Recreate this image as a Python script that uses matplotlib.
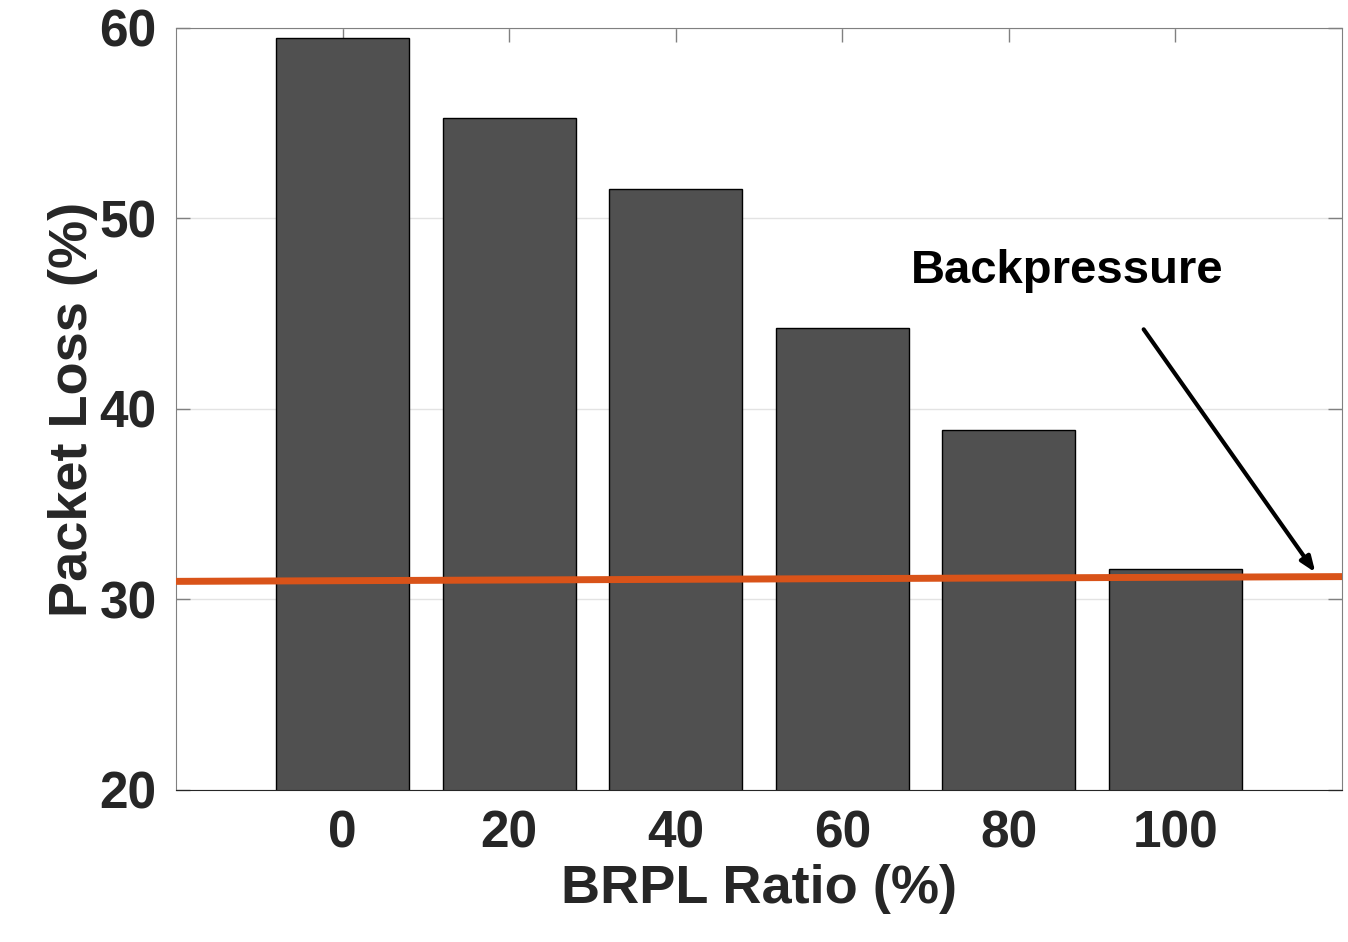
import matplotlib.pyplot as plt
import numpy as np

plt.rcParams['font.family'] = ['Liberation Sans', 'DejaVu Sans']
plt.rcParams['font.weight'] = 'bold'

ratios = ['0', '20', '40', '60', '80', '100']
packet_loss = [59.5, 55.3, 51.55, 44.25, 38.9, 31.6]
backpressure_x = [0, 7]
backpressure_y = [30.95, 31.2]

fig = plt.figure(figsize=(13.48, 9.42), dpi=100)
ax = fig.add_axes([0.1306, 0.1614, 0.8649, 0.8089])

pos = np.arange(1, len(ratios) + 1)
ax.bar(pos, packet_loss, width=0.8, color='#505050', edgecolor='black', linewidth=1, zorder=2)
ax.plot(backpressure_x, backpressure_y, color='#D95319', linewidth=5, zorder=3)

ax.set_xlim(0, 7)
ax.set_ylim(20, 60)
ax.set_xticks(pos)
ax.set_xticklabels(ratios)
ax.set_yticks([20, 30, 40, 50, 60])
ax.yaxis.grid(True, color='#e3e3e3', linewidth=1, zorder=0)
ax.set_axisbelow(True)
ax.tick_params(direction='in', length=10, width=1, color='#808080', top=True, right=True,
               labelsize=37, pad=14)
for s in ['left', 'top', 'right']:
    ax.spines[s].set_color('#808080')
ax.spines['bottom'].set_color('#262626')

ax.set_xlabel('BRPL Ratio (%)', fontsize=39, fontweight='bold', color='#262626', labelpad=4)
ax.set_ylabel('Packet Loss (%)', fontsize=39, fontweight='bold', color='#262626', labelpad=1)
for lbl in ax.get_xticklabels() + ax.get_yticklabels():
    lbl.set_color('#262626')
    lbl.set_fontweight('bold')

ax.annotate('', xy=(6.85, 31.3), xytext=(5.8, 44.3),
            arrowprops=dict(arrowstyle='-|>,head_length=0.9,head_width=0.35', color='black', lw=3))
ax.text(5.35, 47.25, 'Backpressure', fontsize=34, fontweight='bold', ha='center', va='center')

fig.savefig('out.png', dpi=100)
